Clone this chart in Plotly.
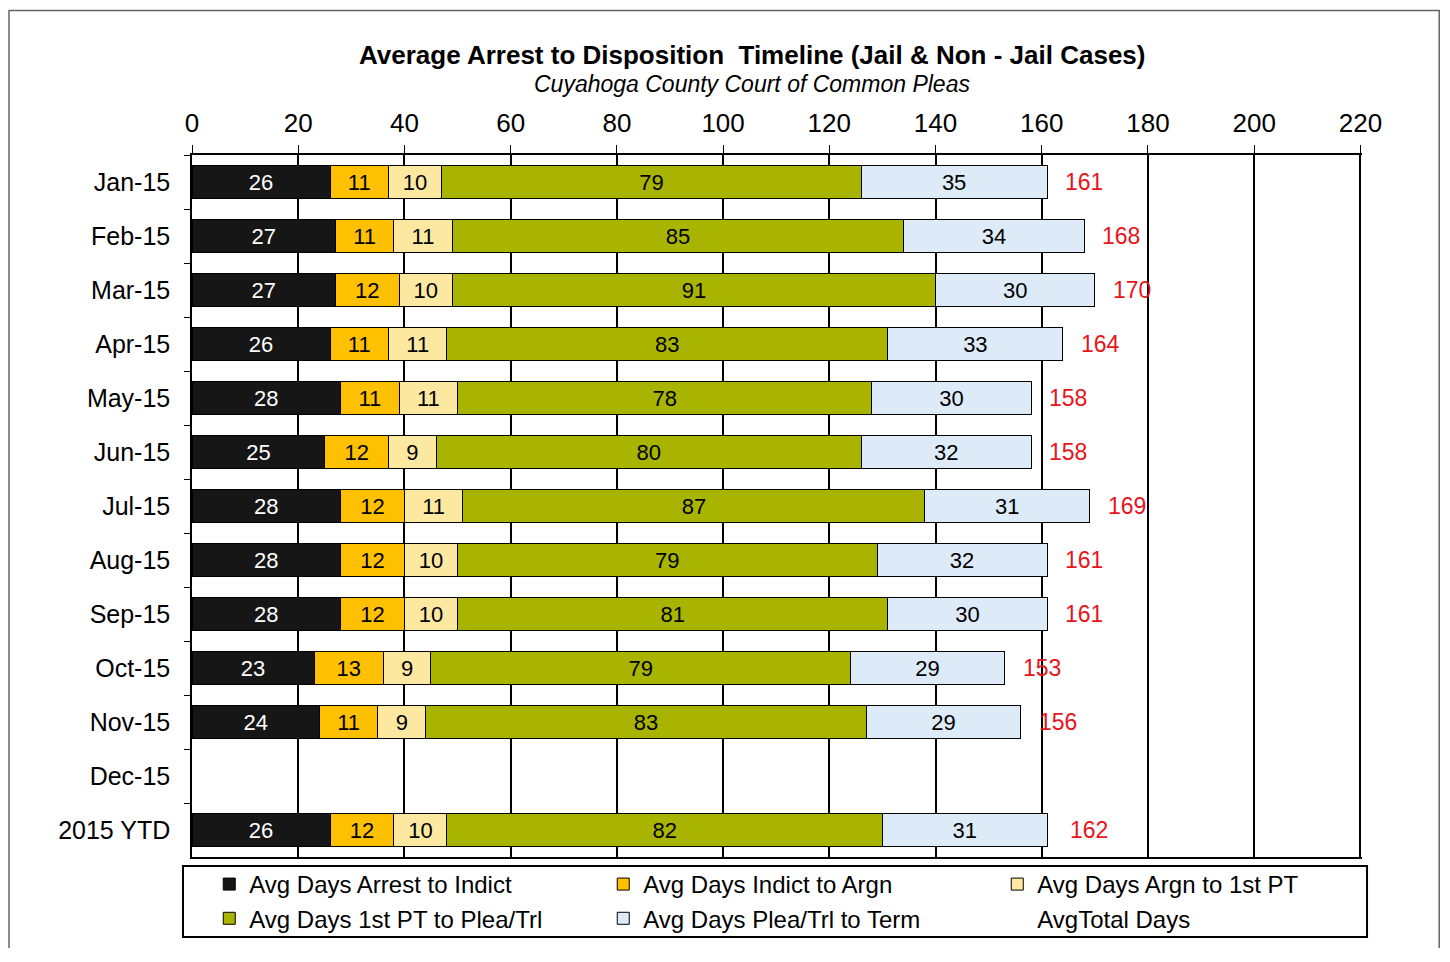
import plotly.graph_objects as go

# 数据
months = ['Jan-15', 'Feb-15', 'Mar-15', 'Apr-15', 'May-15', 'Jun-15', 'Jul-15',
          'Aug-15', 'Sep-15', 'Oct-15', 'Nov-15', 'Dec-15', '2015 YTD']
arrest_to_indict = [26, 27, 27, 26, 28, 25, 28, 28, 28, 23, 24, None, 26]
indict_to_argn = [11, 11, 12, 11, 11, 12, 12, 12, 12, 13, 11, None, 12]
argn_to_pt = [10, 11, 10, 11, 11, 9, 11, 10, 10, 9, 9, None, 10]
pt_to_plea = [79, 85, 91, 83, 78, 80, 87, 79, 81, 79, 83, None, 82]
plea_to_term = [35, 34, 30, 33, 30, 32, 31, 32, 30, 29, 29, None, 31]
total_days = [161, 168, 170, 164, 158, 158, 169, 161, 161, 153, 156, None, 162]
x_ticks = [0, 20, 40, 60, 80, 100, 120, 140, 160, 180, 200, 220]

FONT = 'Arial, Liberation Sans, sans-serif'

series = [
    ('Avg Days Arrest to Indict', arrest_to_indict, '#161616', 'white'),
    ('Avg Days Indict to Argn', indict_to_argn, '#FFC000', 'black'),
    ('Avg Days Argn to 1st PT', argn_to_pt, '#FDE8A2', 'black'),
    ('Avg Days 1st PT to Plea/Trl', pt_to_plea, '#A8B400', 'black'),
    ('Avg Days Plea/Trl to Term', plea_to_term, '#DDEAF7', 'black'),
]

fig = go.Figure()

for name, values, color, text_color in series:
    fig.add_trace(go.Bar(
        name=name,
        x=values,
        y=months,
        orientation='h',
        width=0.6,
        marker=dict(color=color, line=dict(color='black', width=1)),
        text=[str(v) if v is not None else '' for v in values],
        textposition='inside',
        insidetextanchor='middle',
        constraintext='none',
        textangle=0,
        textfont=dict(family=FONT, size=22, color=text_color),
    ))

# 总天数(仅图例)
fig.add_trace(go.Scatter(
    name='AvgTotal Days',
    x=[t for t in total_days if t is not None],
    y=[m for m, t in zip(months, total_days) if t is not None],
    mode='markers',
    marker=dict(color='rgba(0,0,0,0)', size=1),
    hoverinfo='skip',
))

# 红色总天数标签
for m, t in zip(months, total_days):
    if t is None:
        continue
    fig.add_annotation(
        x=t, y=m, text=str(t), showarrow=False,
        xanchor='left', xshift=16,
        font=dict(family=FONT, size=23, color='#E8141B'),
    )

# 标题
fig.add_annotation(
    x=0.4786, y=1.0, xref='paper', yref='paper', yshift=100,
    text='<b>Average Arrest to Disposition  Timeline (Jail & Non - Jail Cases)</b>',
    showarrow=False, xanchor='center', yanchor='middle',
    font=dict(family=FONT, size=26, color='black'),
)
fig.add_annotation(
    x=0.4786, y=1.0, xref='paper', yref='paper', yshift=71,
    text='<i>Cuyahoga County Court of Common Pleas</i>',
    showarrow=False, xanchor='center', yanchor='middle',
    font=dict(family=FONT, size=23, color='black'),
)

# 外框
fig.add_shape(
    type='rect', xref='paper', yref='paper',
    x0=-0.1564, x1=1.066, y0=-0.3, y1=1.206,
    line=dict(color='#666666', width=1.5), fillcolor='rgba(0,0,0,0)',
)
# 图例框
fig.add_shape(
    type='rect', xref='paper', yref='paper',
    x0=-0.0077, x1=1.0043, y0=-0.114, y1=-0.0128,
    line=dict(color='black', width=2), fillcolor='rgba(0,0,0,0)',
)

fig.update_layout(
    barmode='stack',
    width=1442,
    height=940,
    paper_bgcolor='white',
    plot_bgcolor='white',
    margin=dict(l=184, r=88, t=147, b=91, autoexpand=False),
    font=dict(family=FONT, size=24, color='black'),
    showlegend=True,
    legend=dict(
        orientation='h',
        x=1.025, y=-0.0071,
        xanchor='right', yanchor='top',
        entrywidth=349, entrywidthmode='pixels',
        borderwidth=0,
        bgcolor='rgba(0,0,0,0)',
        font=dict(family=FONT, size=24, color='black'),
        traceorder='normal',
    ),
    xaxis=dict(
        side='top',
        range=[0, 220.3],
        tickvals=x_ticks,
        showgrid=True, gridcolor='black', gridwidth=1.5,
        showline=True, linecolor='black', linewidth=1.5, mirror=True,
        ticks='outside', ticklen=8, tickcolor='black',
        zeroline=False,
        tickfont=dict(family=FONT, size=26),
        ticklabelstandoff=3,
    ),
    yaxis=dict(
        categoryorder='array',
        categoryarray=months,
        range=[len(months) - 0.5, -0.5],
        showline=True, linecolor='black', linewidth=1.5,
        ticks='outside', ticklen=6, tickcolor='black', tickson='boundaries',
        showgrid=False,
        tickfont=dict(family=FONT, size=25),
        ticklabelstandoff=15,
    ),
)

fig.write_html('out.html')
